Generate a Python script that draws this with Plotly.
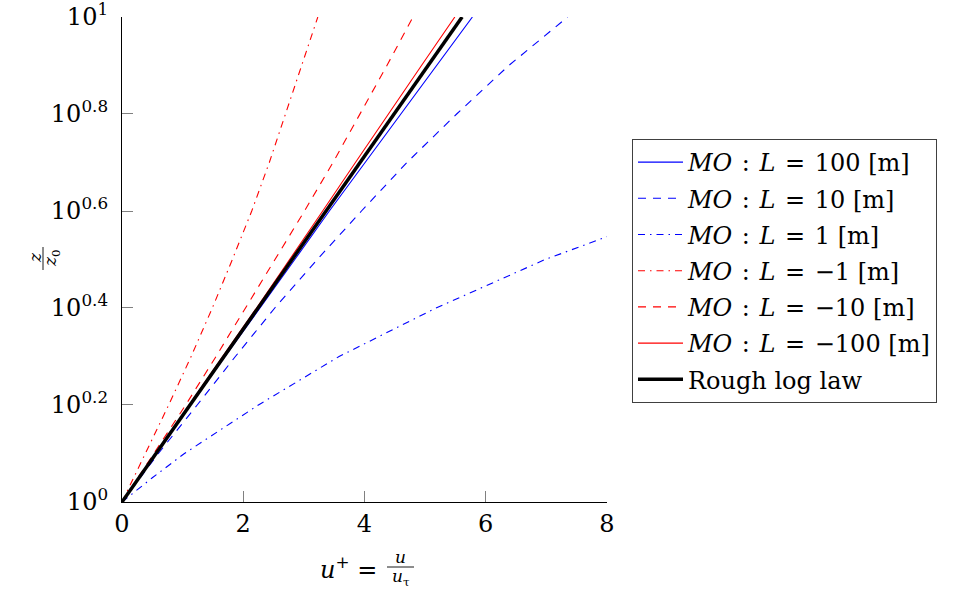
import plotly.graph_objects as go

# Height ratios z/z0 at which the profiles are tabulated (log10 steps of 0.1)
z_ratio = [1, 1.259, 1.585, 1.995, 2.512, 3.162, 3.981, 5.012, 6.310, 7.943, 10]

# Dimensionless velocity u+ for each Monin-Obukhov stability length
u_L100 = [0, 0.56, 1.13, 1.70, 2.28, 2.85, 3.42, 4.01, 4.60, 5.19, 5.78]
u_L10 = [0, 0.60, 1.24, 1.87, 2.52, 3.22, 3.95, 4.70, 5.52, 6.38, 7.35]
u_Lm1 = [0, 0.39, 0.77, 1.14, 1.49, 1.82, 2.14, 2.43, 2.70, 2.97, 3.23]
u_Lm10 = [0, 0.52, 1.05, 1.55, 2.04, 2.53, 3.01, 3.48, 3.93, 4.37, 4.80]
u_Lm100 = [0, 0.55, 1.11, 1.66, 2.22, 2.77, 3.31, 3.85, 4.39, 4.94, 5.49]
u_log = [0, 0.56, 1.12, 1.68, 2.25, 2.81, 3.37, 3.93, 4.49, 5.05, 5.61]

# Very stable case (L = 1 m) leaves the x range early, tabulated separately
z_ratio_L1 = [1, 1.122, 1.259, 1.585, 1.995, 2.512, 3.162, 3.524]
u_L1 = [0, 0.50, 1.03, 2.25, 3.58, 5.18, 6.98, 8.0]

x_ticks = [0, 2, 4, 6, 8]
y_ticks = [1, 1.585, 2.512, 3.981, 6.310, 10]
y_tick_text = ["10<sup>0</sup>", "10<sup>0.2</sup>", "10<sup>0.4</sup>",
               "10<sup>0.6</sup>", "10<sup>0.8</sup>", "10<sup>1</sup>"]

FONT = "DejaVu Serif"
BLUE = "#0000ff"
RED = "#ff0000"
DASH = "8px,7px"
DASHDOT = "7px,5px,1.5px,5px"

# math-style spacing around relation symbols
SP = "\u2009\u2009"


def mo(L):
    return f"<i>MO</i>{SP}:{SP}<i>L</i>{SP}={SP}{L} [m]"


series = [
    (u_L100, z_ratio, mo("100"), BLUE, "solid", 1.1),
    (u_L10, z_ratio, mo("10"), BLUE, DASH, 1.1),
    (u_L1, z_ratio_L1, mo("1"), BLUE, DASHDOT, 1.1),
    (u_Lm1, z_ratio, mo("\u22121"), RED, DASHDOT, 1.1),
    (u_Lm10, z_ratio, mo("\u221210"), RED, DASH, 1.1),
    (u_Lm100, z_ratio, mo("\u2212100"), RED, "solid", 1.1),
    (u_log, z_ratio, "Rough log law", "black", "solid", 3.5),
]

fig = go.Figure()
for i, (x, y, name, color, dash, width) in enumerate(series):
    fig.add_trace(go.Scatter(
        x=x, y=y, mode="lines", name=name, legendgroup=str(i),
        line=dict(color=color, dash=dash, width=width),
    ))

# plot area in pixels
L_PX, R_PX, T_PX, B_PX = 122, 607, 17, 502
W, H = 958, 590


def px(xp):
    return (xp - L_PX) / (R_PX - L_PX)


def py(yp):
    return (B_PX - yp) / (B_PX - T_PX)


annotations = [
    # x-axis title: u+ = u / u_tau
    dict(x=px(379), y=py(568), text="<i>u</i><sup>+</sup> =", xanchor="right",
         yanchor="middle", font=dict(size=24)),
    dict(x=px(400), y=py(557), text="<i>u</i>", xanchor="center",
         yanchor="middle", font=dict(size=17)),
    dict(x=px(401), y=py(577), text="<i>u</i><sub>\u03c4</sub>", xanchor="center",
         yanchor="middle", font=dict(size=17)),
    # y-axis title: z / z0, rotated
    dict(x=px(35), y=py(258), text="<i>z</i>", textangle=-90, xanchor="center",
         yanchor="middle", font=dict(size=17)),
    dict(x=px(51), y=py(258), text="<i>z</i><sub>0</sub>", textangle=-90,
         xanchor="center", yanchor="middle", font=dict(size=17)),
]
for a in annotations:
    a.update(xref="paper", yref="paper", showarrow=False)

shapes = [
    dict(type="line", xref="paper", yref="paper", x0=px(387), x1=px(414),
         y0=py(567), y1=py(567), line=dict(color="black", width=0.9)),
    dict(type="line", xref="paper", yref="paper", x0=px(43), x1=px(43),
         y0=py(247), y1=py(270), line=dict(color="black", width=0.9)),
]

fig.update_layout(
    width=W, height=H,
    margin=dict(l=L_PX, r=W - R_PX, t=T_PX, b=H - B_PX, autoexpand=False),
    paper_bgcolor="white", plot_bgcolor="white",
    font=dict(family=FONT, size=24, color="black"),
    showlegend=True,
    legend=dict(
        x=px(632), y=py(139), xanchor="left", yanchor="top",
        bordercolor="#404040", borderwidth=1, bgcolor="white",
        font=dict(family=FONT, size=24), tracegroupgap=2, itemwidth=45,
    ),
    annotations=annotations,
    shapes=shapes,
)
fig.update_xaxes(
    range=[0, 8], tickvals=x_ticks, ticks="inside", ticklen=11,
    tickcolor="#808080", showline=True, linecolor="black", linewidth=1.2,
    showgrid=False, zeroline=False, mirror=False, automargin=False,
    tickfont=dict(family=FONT, size=24), ticklabeloverflow="allow",
)
fig.update_yaxes(
    type="log", range=[0, 1], tickvals=y_ticks, ticktext=y_tick_text,
    ticks="inside", ticklen=11, tickcolor="#808080", showline=True,
    linecolor="black", linewidth=1.2, showgrid=False, zeroline=False,
    mirror=False, automargin=False, tickfont=dict(family=FONT, size=24),
    ticklabeloverflow="allow", ticklabelstandoff=8,
)

fig.write_html("out.html")
